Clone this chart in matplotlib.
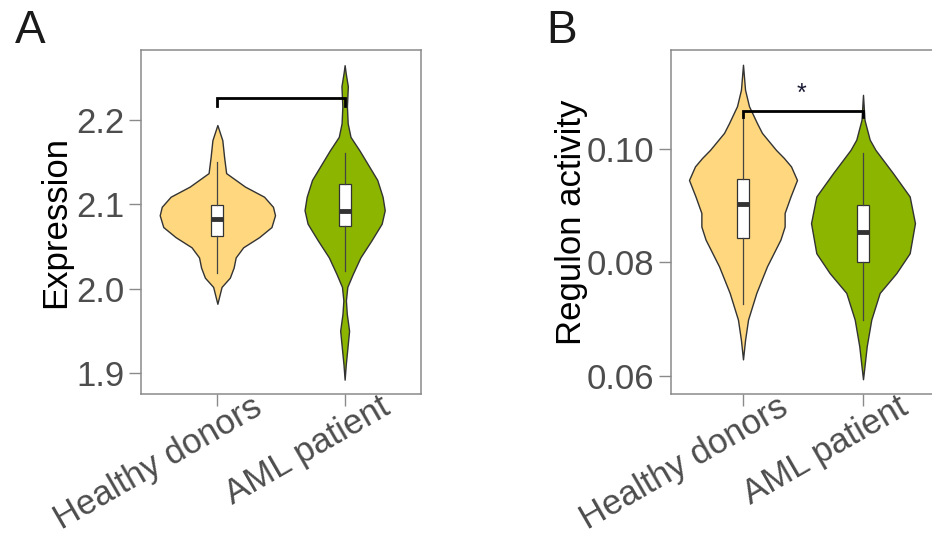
import matplotlib
matplotlib.use("Agg")
import matplotlib.pyplot as plt
import matplotlib.transforms as mtransforms
import numpy as np

plt.rcParams['font.family'] = ['Liberation Sans', 'DejaVu Sans']

groups = ["Healthy donors", "AML patient"]
fill_colors = ["#FED77E", "#8CB500"]

# violin outlines: value levels and half widths (x units)
a_healthy_y = [1.982, 2.002, 2.013, 2.025, 2.037, 2.049, 2.061, 2.073, 2.087,
               2.097, 2.109, 2.121, 2.137, 2.156, 2.176, 2.194]
a_healthy_w = [0.0, 0.033, 0.098, 0.128, 0.144, 0.203, 0.328, 0.425, 0.453,
               0.437, 0.367, 0.217, 0.069, 0.053, 0.039, 0.0]
a_aml_y = [1.892, 1.910, 1.930, 1.950, 1.970, 1.986, 2.002, 2.017, 2.037, 2.057,
           2.077, 2.093, 2.109, 2.129, 2.148, 2.164, 2.180, 2.196, 2.216, 2.240,
           2.256, 2.265]
a_aml_w = [0.0, 0.009, 0.022, 0.035, 0.017, 0.010, 0.021, 0.063, 0.124, 0.210,
           0.291, 0.315, 0.298, 0.256, 0.180, 0.116, 0.046, 0.024, 0.018, 0.025,
           0.008, 0.0]
b_healthy_y = [0.0629, 0.0663, 0.0699, 0.0746, 0.0793, 0.0840, 0.0863, 0.0887,
               0.0916, 0.0945, 0.0969, 0.0984, 0.0998, 0.1028, 0.1045, 0.1075,
               0.1104, 0.1148]
b_healthy_w = [0.0, 0.017, 0.042, 0.111, 0.200, 0.312, 0.347, 0.347,
               0.396, 0.450, 0.400, 0.340, 0.275, 0.158, 0.117, 0.050, 0.017, 0.0]
b_aml_y = [0.0594, 0.0617, 0.0652, 0.0699, 0.0746, 0.0781, 0.0816, 0.0869,
           0.0916, 0.0957, 0.0998, 0.1016, 0.1051, 0.1095]
b_aml_w = [0.0, 0.0125, 0.031, 0.069, 0.139, 0.278, 0.389, 0.433,
           0.389, 0.250, 0.104, 0.056, 0.0125, 0.0]

# box summaries: whisker low, q1, median, q3, whisker high
a_box = [[2.018, 2.062, 2.082, 2.099, 2.150],
         [2.021, 2.074, 2.092, 2.124, 2.161]]
b_box = [[0.0726, 0.0843, 0.0902, 0.0946, 0.1055],
         [0.0699, 0.0800, 0.0853, 0.0901, 0.0993]]

a_ticks = [1.9, 2.0, 2.1, 2.2]
a_ticklabels = ["1.9", "2.0", "2.1", "2.2"]
b_ticks = [0.06, 0.08, 0.10]
b_ticklabels = ["0.06", "0.08", "0.10"]

a_bracket = [2.217, 2.2258]
b_bracket = [0.1056, 0.1067]
b_star_y = 0.1097

W, H = 932, 534
fig = plt.figure(figsize=(W / 100, H / 100), dpi=100)


def px_axes(left, right, top, bottom):
    return fig.add_axes([left / W, 1 - bottom / H, (right - left) / W, (bottom - top) / H])


def draw_panel(ax, profiles, boxes, ylim, ticks, ticklabels, ylabel, bracket, box_w):
    for i, (yy, ww) in enumerate(profiles):
        x = i + 1
        yy = np.array(yy)
        ww = np.array(ww)
        ax.fill_betweenx(yy, x - ww, x + ww, facecolor=fill_colors[i],
                         edgecolor="#333333", linewidth=1.0, joinstyle="round", zorder=2)
    stats = []
    for i, b in enumerate(boxes):
        stats.append(dict(whislo=b[0], q1=b[1], med=b[2], q3=b[3], whishi=b[4], fliers=[]))
    ax.bxp(stats, positions=[1, 2], widths=box_w, showcaps=False, showfliers=False,
           patch_artist=True,
           boxprops=dict(facecolor="white", edgecolor="#333333", linewidth=0.9),
           medianprops=dict(color="#333333", linewidth=3.5, solid_capstyle="butt"),
           whiskerprops=dict(color="#444444", linewidth=0.9), zorder=3)
    ax.plot([1, 1, 2, 2], [bracket[0], bracket[1], bracket[1], bracket[0]],
            color="black", linewidth=2.0, solid_joinstyle="miter", zorder=4)

    ax.set_xlim(0.4, 2.6)
    ax.set_ylim(*ylim)
    ax.set_yticks(ticks)
    ax.set_yticklabels(ticklabels)
    ax.set_xticks([1, 2])
    ax.set_xticklabels(groups, rotation=30, ha="right", va="baseline",
                       rotation_mode="anchor")
    for s in ax.spines.values():
        s.set_color("#8a8a8a")
        s.set_linewidth(1.1)
    ax.tick_params(axis="both", direction="out", length=8.6, width=1.0,
                   color="#8a8a8a", labelsize=25, labelcolor="#4D4D4D")
    ax.tick_params(axis="y", pad=3.6)
    ax.tick_params(axis="x", pad=4.8)
    # shift the rotated labels right, as in the original layout
    offset = mtransforms.ScaledTranslation(0.47, 0, fig.dpi_scale_trans)
    for lab in ax.get_xticklabels():
        lab.set_transform(lab.get_transform() + offset)
    ax.set_ylabel(ylabel, fontsize=25, color="black")


axA = px_axes(141, 421, 50, 394)
draw_panel(axA, [(a_healthy_y, a_healthy_w), (a_aml_y, a_aml_w)], a_box,
           (1.875, 2.283), a_ticks, a_ticklabels, "Expression", a_bracket, 0.095)
axA.yaxis.set_label_coords((72 - 141) / 280, 0.5)

axB = px_axes(671, 935, 50, 394)
draw_panel(axB, [(b_healthy_y, b_healthy_w), (b_aml_y, b_aml_w)], b_box,
           (0.0568, 0.1174), b_ticks, b_ticklabels, "Regulon activity", b_bracket, 0.1)
axB.yaxis.set_label_coords((588 - 671) / 264, 0.5)
axB.text(1.49, b_star_y, "*", ha="center", va="center", fontsize=18, color="#1a1a33")

fig.text(15 / W, 1 - 43 / H, "A", fontsize=33, color="#1a1a1a", ha="left", va="baseline")
fig.text(546 / W, 1 - 43 / H, "B", fontsize=33, color="#1a1a1a", ha="left", va="baseline")

fig.savefig("out.png", dpi=100)
